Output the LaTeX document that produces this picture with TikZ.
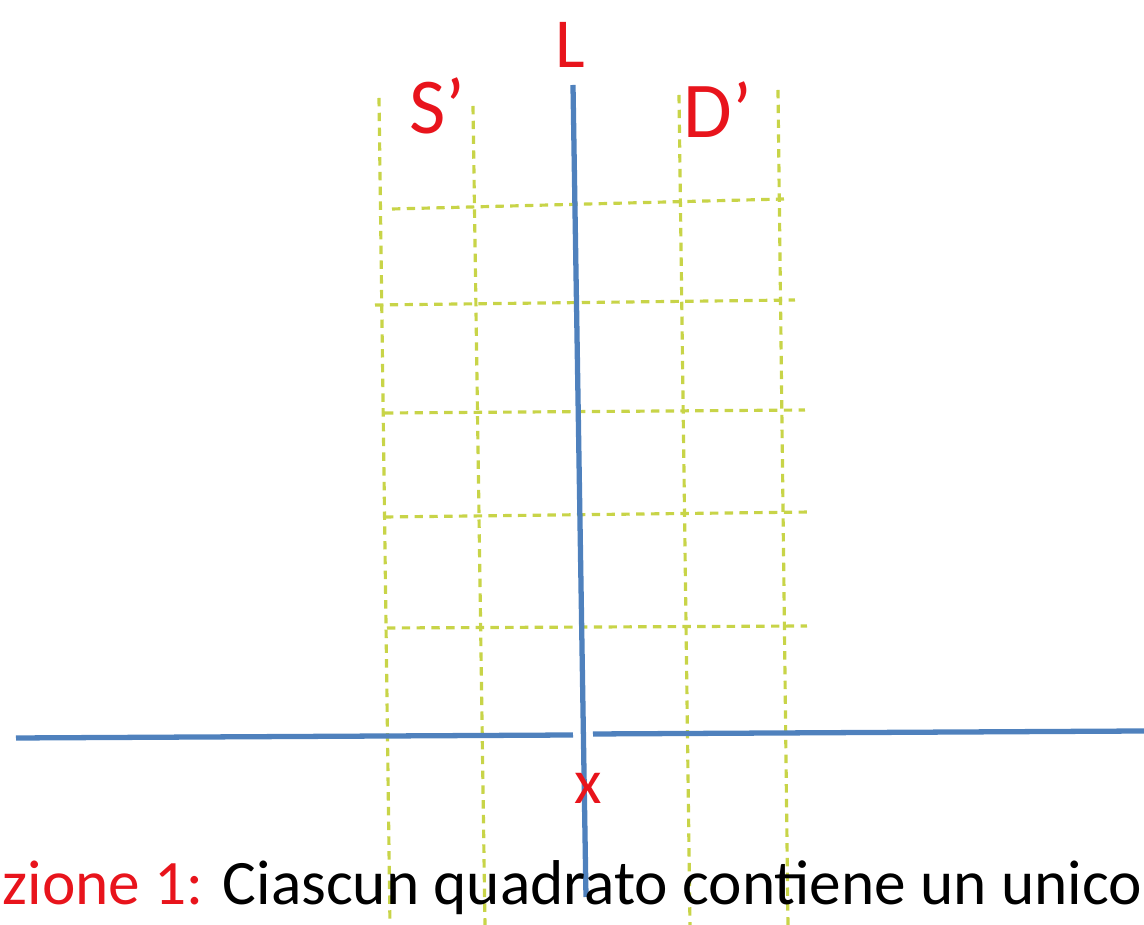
\documentclass[tikz,border=0pt]{standalone}
\usepackage{fontspec}
\setmainfont{Carlito}
\usepackage{xcolor}
\usetikzlibrary{positioning}
\definecolor{axisblue}{HTML}{4F81BD}
\definecolor{gridgreen}{HTML}{C8D448}
\definecolor{labred}{HTML}{E8141C}

\begin{document}
\begin{tikzpicture}[
    x=0.01cm, y=-0.01cm,
    axis/.style={axisblue, line width=1.5pt},
    gridline/.style={gridgreen, dash pattern=on 2.4pt off 1.8pt, line width=0.9pt},
    lab/.style={text=labred, inner sep=0pt},
]
\useasboundingbox (0,0) rectangle (1144,925);

% dashed grid
\foreach \xa/\ya/\xb/\yb in {379/98/390/925, 473/106/485/925,
                              679/95/690/925, 778/90/788/925} {
    \draw[gridline] (\xa,\ya) -- (\xb,\yb);
}
\foreach \xa/\ya/\xb/\yb in {392/209/784/199, 375/305/795/300,
                             385/413/805/410, 385/517/812/512,
                             387/628/807/626} {
    \draw[gridline] (\xa,\ya) -- (\xb,\yb);
}

% axes
\draw[axis] (573,85) -- (586,897);
\draw[axis] (16,738) -- (573,735);
\draw[axis] (593,734) -- (1144,731);

% labels
\node[lab, font=\fontsize{20}{24}\selectfont] (lbl) at (570,45) {L};
\node[lab, font=\fontsize{22.5}{26}\selectfont] (sp) at (437,106) {S’};
\node[lab, font=\fontsize{22.5}{26}\selectfont] (dp) at (718,110) {D’};
\node[lab, font=\fontsize{18}{22}\selectfont] (cx) at (588,788) {x};

\node[anchor=base west, inner sep=0pt, font=\fontsize{18}{22}\selectfont]
    (caption) at (2,905) {\textcolor{labred}{zione 1:} Ciascun quadrato contiene un unico};

\end{tikzpicture}
\end{document}
